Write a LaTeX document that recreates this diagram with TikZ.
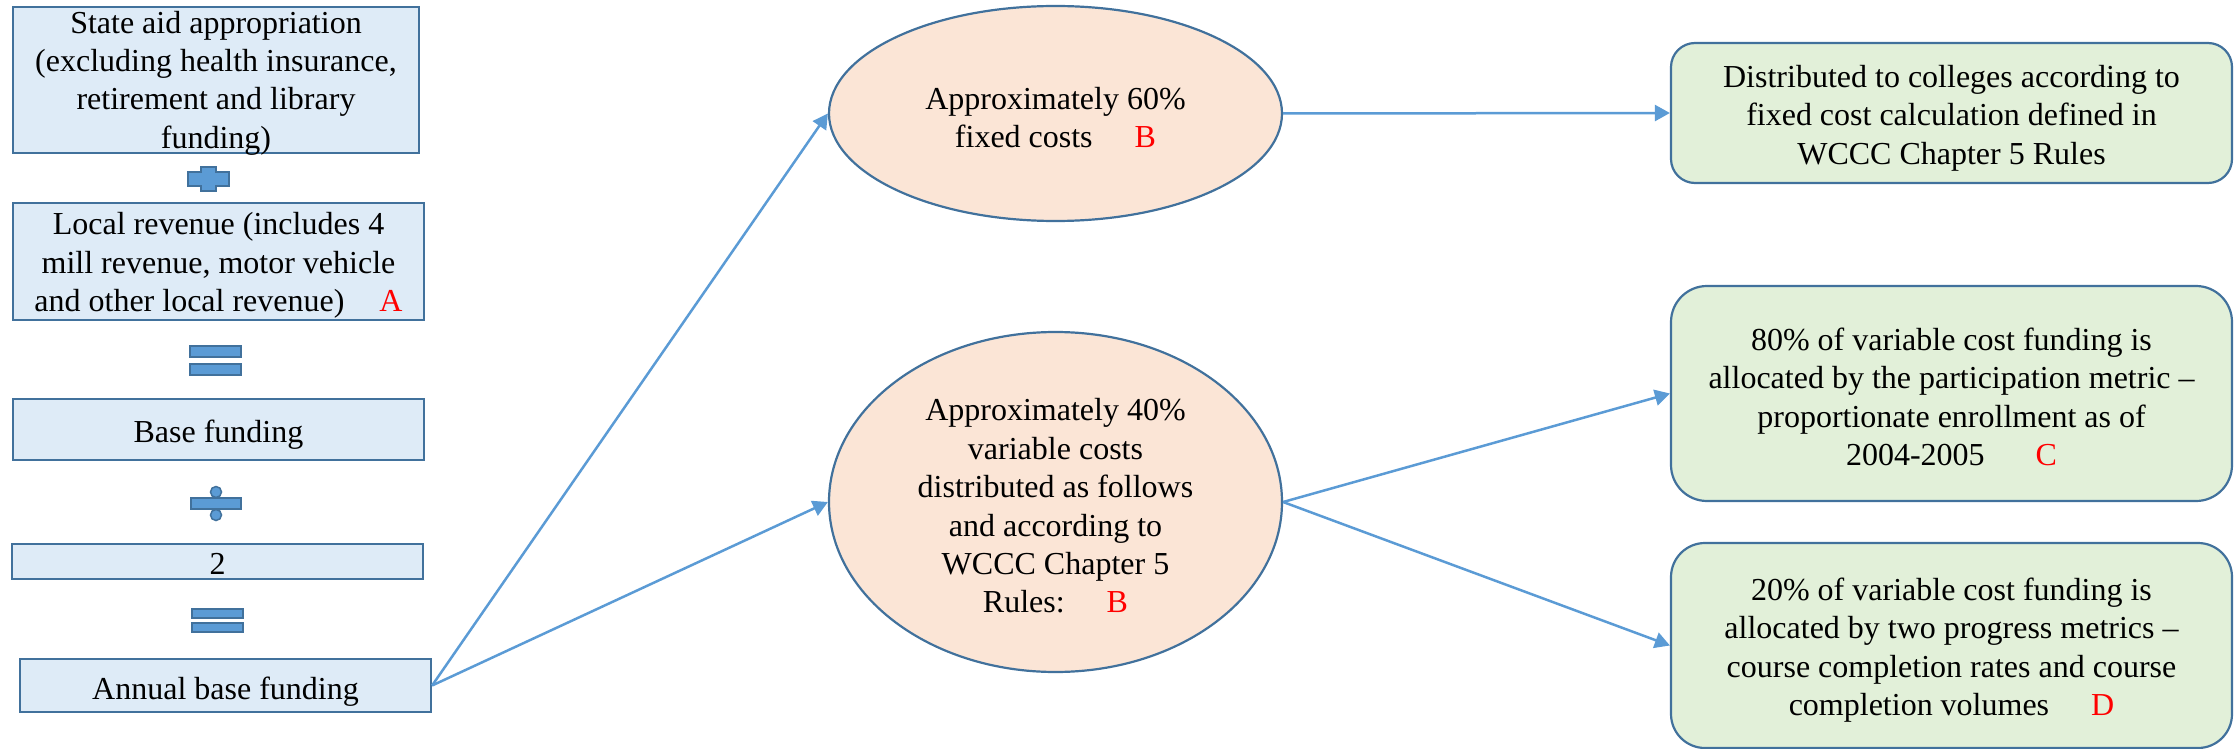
\documentclass[tikz,border=0pt]{standalone}
\usepackage{fontspec}
\setmainfont{Liberation Serif}
\usetikzlibrary{shapes.geometric,arrows.meta}
\definecolor{boxfill}{HTML}{DEEBF7}
\definecolor{edge}{HTML}{41719C}
\definecolor{symfill}{HTML}{5B9BD5}
\definecolor{arrowc}{HTML}{5B9BD5}
\definecolor{ellfill}{HTML}{FBE5D6}
\definecolor{greenfill}{HTML}{E2F0D9}
\definecolor{mark}{HTML}{FF0000}
\tikzset{
  txt/.style={font=\fontsize{32}{38.4}\selectfont, align=center, inner sep=0pt, text=black},
  lbox/.style={rectangle, draw=edge, fill=boxfill, line width=2.2pt, inner sep=0pt},
  ovalbox/.style={ellipse, draw=edge, fill=ellfill, line width=2.2pt, inner sep=0pt},
  rbox/.style={rectangle, draw=edge, fill=greenfill, line width=2.2pt, inner sep=0pt},
  sym/.style={draw=edge, fill=symfill, line width=1.5pt},
  conn/.style={draw=arrowc, line width=2.5pt, -{Triangle[length=15pt,width=16pt]}}
}
\begin{document}
\begin{tikzpicture}[x=1pt,y=-1pt]
\useasboundingbox (0,0) rectangle (2239,749);

% left column
\node[lbox, minimum width=406pt, minimum height=146pt,
  label={[txt, yshift=-3pt]center:{State aid appropriation\\(excluding health insurance,\\retirement and library\\funding)}}] (l1) at (216,80) {};
\node[lbox, minimum width=411pt, minimum height=117pt,
  label={[txt, yshift=-4pt]center:{Local revenue (includes 4\\mill revenue, motor vehicle\\and other local revenue)\hspace{35pt}{\color{mark}A}}}] (l2) at (218.5,261.5) {};
\node[lbox, minimum width=411pt, minimum height=61pt,
  label={[txt, yshift=-5.5pt]center:{Base funding}}] (l3) at (218.5,429.5) {};
\node[lbox, minimum width=411pt, minimum height=35pt,
  label={[txt, yshift=-2pt]center:{2}}] (l4) at (217.5,561.5) {};
\node[lbox, minimum width=411pt, minimum height=53pt,
  label={[txt, yshift=-6.5pt]center:{Annual base funding}}] (l5) at (225.5,685.5) {};

% operator symbols
\path[sym] (188,172) -- (201,172) -- (201,167) -- (216,167) -- (216,172) -- (229,172)
  -- (229,186) -- (216,186) -- (216,191) -- (201,191) -- (201,186) -- (188,186) -- cycle;
\path[sym] (190,346) rectangle (241,357);
\path[sym] (190,364) rectangle (241,375);
\path[sym] (191,498) rectangle (241,509);
\path[sym] (216,492) circle[radius=5.5pt];
\path[sym] (216,515) circle[radius=5.5pt];
\path[sym] (192,609) rectangle (243,618);
\path[sym] (192,623) rectangle (243,632);

% ellipses
\node[ovalbox, minimum width=453pt, minimum height=215pt,
  label={[txt, yshift=-4pt]center:{Approximately 60\%\\fixed costs\hspace{42pt}{\color{mark}B}}}] (e1) at (1055.5,113.5) {};
\node[ovalbox, minimum width=453pt, minimum height=340pt,
  label={[txt, yshift=-4pt]center:{Approximately 40\%\\variable costs\\distributed as follows\\and according to\\WCCC Chapter 5\\Rules:\hspace{42pt}{\color{mark}B}}}] (e2) at (1055.5,502) {};

% right boxes
\node[rbox, rounded corners=24pt, minimum width=561pt, minimum height=140pt,
  label={[txt, yshift=-5pt]center:{Distributed to colleges according to\\fixed cost calculation defined in\\WCCC Chapter 5 Rules}}] (r1) at (1951.5,113) {};
\node[rbox, rounded corners=36pt, minimum width=561pt, minimum height=215pt,
  label={[txt, yshift=-3.5pt]center:{80\% of variable cost funding is\\allocated by the participation metric –\\proportionate enrollment as of\\2004-2005\hspace{51pt}{\color{mark}C}}}] (r2) at (1951.5,393.5) {};
\node[rbox, rounded corners=34pt, minimum width=561pt, minimum height=205pt,
  label={[txt, yshift=-4.5pt]center:{20\% of variable cost funding is\\allocated by two progress metrics –\\course completion rates and course\\completion volumes\hspace{42pt}{\color{mark}D}}}] (r3) at (1951.5,645.5) {};

% connectors
\draw[conn] (l5.east) -- (e1.west);
\draw[conn] (l5.east) -- (e2.west);
\draw[conn] (e1.east) -- (r1.west);
\draw[conn] (e2.east) -- (r2.west);
\draw[conn] (e2.east) -- (r3.west);
\end{tikzpicture}
\end{document}
